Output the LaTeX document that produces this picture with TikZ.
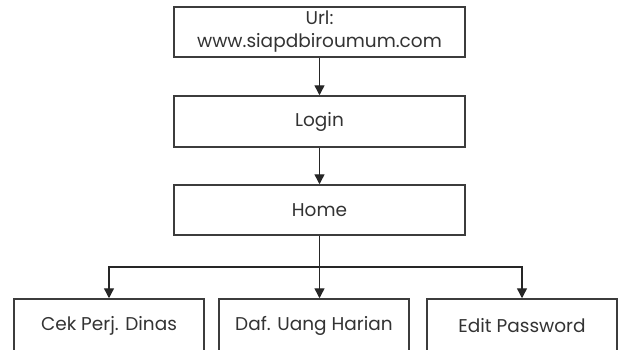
\documentclass[tikz,border=0pt]{standalone}
\usepackage{fontspec}
\setmainfont{Poppins}
\usetikzlibrary{arrows.meta}
\definecolor{edge}{HTML}{3C3C3C}
\definecolor{ink}{HTML}{333333}
\tikzset{
  x=1pt, y=-1pt,
  box/.style={draw=edge, line width=1.5pt, rectangle, inner sep=0pt,
    text=ink, font=\fontsize{18.5}{23}\selectfont, align=center},
  arr/.style={draw=black!85, line width=1.4pt, -{Triangle[length=10pt,width=10pt]}},
  wire/.style={draw=black!85, line width=1.4pt}
}
\begin{document}
\begin{tikzpicture}
  \useasboundingbox (0,0) rectangle (635,349);
  \clip (0,0) rectangle (635,349);
  % page flow
  \node[box, minimum width=291pt, minimum height=50pt] (url) at (319.5,32) {Url:\\www.siapdbiroumum.com};
  \node[box, minimum width=291pt, minimum height=51pt] (login) at (319.5,121.5) {Login};
  \node[box, minimum width=291pt, minimum height=50pt] (home) at (319.5,210) {Home};
  % menu entries (lower edges run past the page)
  \node[box, minimum width=190pt, minimum height=54pt] (cek) at (109,326) {Cek Perj. Dinas};
  \node[box, minimum width=190pt, minimum height=54pt] (daf) at (314,326) {Daf. Uang Harian};
  \node[box, minimum width=190pt, minimum height=54pt] (pwd) at (522,326) {Edit Password};
  \coordinate (split) at (319.5,267);
  \draw[arr] (url) -- (login);
  \draw[arr] (login) -- (home);
  \draw[wire] (home) -- (split);
  \draw[arr] (split) -| (cek);
  \draw[arr] (split) -| (pwd);
  \draw[arr] (split) -- (split |- daf.north);
\end{tikzpicture}
\end{document}
